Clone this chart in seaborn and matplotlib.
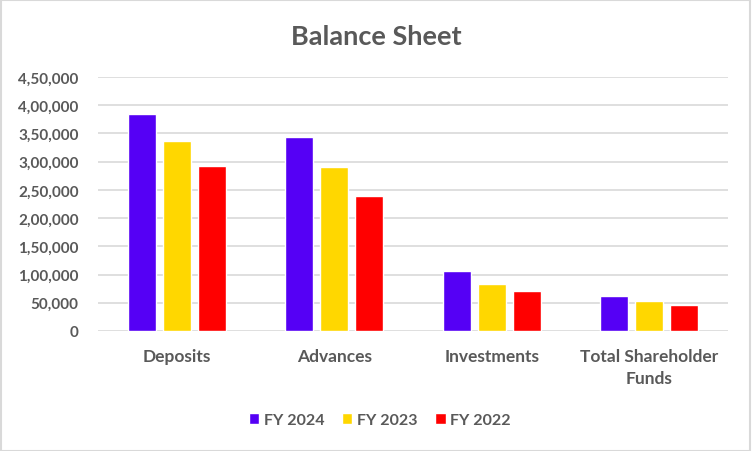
import pandas as pd
import numpy as np
import seaborn as sns
import matplotlib.pyplot as plt
from matplotlib.ticker import FuncFormatter

categories = ["Deposits", "Advances", "Investments", "Total Shareholder\nFunds"]
years = ["FY 2024", "FY 2023", "FY 2022"]
fy2024 = [384500, 343700, 106300, 62000]
fy2023 = [336600, 290600, 83300, 53200]
fy2022 = [292300, 239200, 70900, 46100]
colors = ["#5500F5", "#FFD700", "#FF0000"]

rows = []
for yr, vals in zip(years, [fy2024, fy2023, fy2022]):
    for c, v in zip(categories, vals):
        rows.append({"category": c, "year": yr, "value": v})
df = pd.DataFrame(rows)

sns.set_style("white")
plt.rcParams['font.family'] = ['Lato', 'DejaVu Sans']
grey = "#595959"

def indian(x, pos):
    n = int(round(x))
    s = str(n)
    if len(s) <= 3:
        return s
    last3 = s[-3:]
    rest = s[:-3]
    parts = []
    while len(rest) > 2:
        parts.insert(0, rest[-2:])
        rest = rest[:-2]
    if rest:
        parts.insert(0, rest)
    return ",".join(parts) + "," + last3

fig = plt.figure(figsize=(7.52, 4.52), dpi=100)
ax = fig.add_axes([0.1303, 0.2655, 0.8377, 0.5619])
sns.barplot(data=df, x="category", y="value", hue="year", palette=colors,
            width=0.667, gap=0.2, ax=ax, saturation=1, legend=True)

ax.set_ylim(0, 450000)
ax.set_yticks(np.arange(0, 450001, 50000))
ax.yaxis.set_major_formatter(FuncFormatter(indian))
ax.set_xlim(-0.5, 3.5)
ax.grid(axis="y", color="#D9D9D9", linewidth=1.2)
ax.set_axisbelow(True)
for sp in ax.spines.values():
    sp.set_visible(False)
ax.tick_params(axis="both", length=0, colors=grey)
ax.tick_params(axis="y", pad=14, labelsize=11)
ax.tick_params(axis="x", pad=12, labelsize=12.5)
for lab in ax.get_xticklabels() + ax.get_yticklabels():
    lab.set_fontweight("bold")
for lab in ax.get_xticklabels():
    lab.set_linespacing(1.45)
ax.set_xlabel("")
ax.set_ylabel("")

fig.suptitle("Balance Sheet", x=0.5, y=0.945, fontsize=19.5, fontweight="bold", color=grey)

handles, labels = ax.get_legend_handles_labels()
ax.legend_.remove()
leg = fig.legend(handles, labels, loc="center", bbox_to_anchor=(0.505, 0.069), ncol=3,
                 frameon=False, handlelength=0.65, handleheight=0.65, handletextpad=0.3,
                 columnspacing=1.1, prop={"size": 11.5, "weight": "bold"})
for t in leg.get_texts():
    t.set_color(grey)

fig.patches.append(plt.Rectangle((0.001, 0.001), 0.997, 0.996, transform=fig.transFigure,
                                 fill=False, edgecolor="#D9D9D9", linewidth=1.5))

fig.savefig("out.png", dpi=100)
